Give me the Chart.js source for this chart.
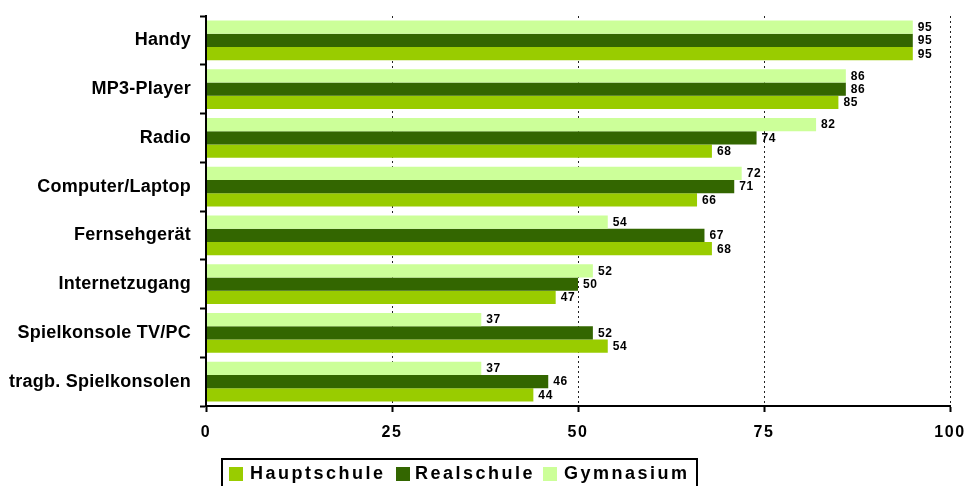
<!DOCTYPE html>
<html>
<head>
<meta charset="utf-8">
<script src="https://cdn.jsdelivr.net/npm/chart.js@4/dist/chart.umd.min.js"></script>
<style>
  html, body { margin: 0; padding: 0; background: #fff; }
  canvas { display: block; }
</style>
</head>
<body>
<canvas id="c" width="972" height="486"></canvas>
<script>
const categories = ["Handy", "MP3-Player", "Radio", "Computer/Laptop", "Fernsehgerät", "Internetzugang", "Spielkonsole TV/PC", "tragb. Spielkonsolen"];
const gymnasium   = [95, 86, 82, 72, 54, 52, 37, 37];
const realschule  = [95, 86, 74, 71, 67, 50, 52, 46];
const hauptschule = [95, 85, 68, 66, 68, 47, 54, 44];
const xTicks = [0, 25, 50, 75, 100];
const legendOrder = ["Hauptschule", "Realschule", "Gymnasium"];

const FONT = '"Liberation Sans", Arial, sans-serif';
const COLORS = { Hauptschule: '#99CC00', Realschule: '#336600', Gymnasium: '#CCFF99' };

const spacingPlugin = {
  id: 'spacing',
  beforeDraw(chart) {
    const sp = { x: '1.6px', y: '0.25px' };
    for (const id of ['x', 'y']) {
      const s = chart.scales[id];
      if (s && !s._spPatched) {
        const orig = s.drawLabels;
        s.drawLabels = function (a) {
          const c = this.ctx;
          c.save();
          c.letterSpacing = sp[id];
          orig.call(this, a);
          c.restore();
        };
        s._spPatched = true;
      }
    }
  }
};

const valueLabels = {
  id: 'valueLabels',
  afterDatasetsDraw(chart) {
    const ctx = chart.ctx;
    ctx.save();
    ctx.font = 'bold 12px ' + FONT;
    ctx.letterSpacing = '0.6px';
    ctx.fillStyle = '#000';
    ctx.textAlign = 'left';
    ctx.textBaseline = 'middle';
    chart.data.datasets.forEach((ds, di) => {
      const meta = chart.getDatasetMeta(di);
      meta.data.forEach((bar, i) => {
        ctx.fillText(String(ds.data[i]), bar.x + 5, bar.y + 0.5);
      });
    });
    ctx.restore();
  }
};

const boxLegend = {
  id: 'boxLegend',
  afterDraw(chart) {
    const ctx = chart.ctx;
    ctx.save();
    ctx.strokeStyle = '#000';
    ctx.lineWidth = 2;
    ctx.strokeRect(222, 459, 475, 40);
    const sq = [229, 396, 543];
    const tx = [250, 415, 564];
    ctx.font = 'bold 18px ' + FONT;
    ctx.letterSpacing = '2.5px';
    ctx.textBaseline = 'middle';
    ctx.textAlign = 'left';
    legendOrder.forEach((name, k) => {
      const ds = chart.data.datasets.find(d => d.label === name);
      ctx.fillStyle = ds.backgroundColor;
      ctx.fillRect(sq[k], 467, 14, 14);
      ctx.fillStyle = '#000';
      ctx.fillText(name, tx[k], 474);
    });
    ctx.restore();
  }
};

new Chart(document.getElementById('c'), {
  type: 'bar',
  data: {
    labels: categories,
    datasets: [
      { label: 'Gymnasium', data: gymnasium, backgroundColor: COLORS.Gymnasium },
      { label: 'Realschule', data: realschule, backgroundColor: COLORS.Realschule },
      { label: 'Hauptschule', data: hauptschule, backgroundColor: COLORS.Hauptschule }
    ]
  },
  options: {
    indexAxis: 'y',
    responsive: false,
    animation: false,
    devicePixelRatio: 1,
    datasets: { bar: { categoryPercentage: 0.82, barPercentage: 1.0, borderWidth: 0 } },
    layout: { padding: { top: 16, right: 22, left: 0, bottom: 0 } },
    plugins: { legend: { display: false }, tooltip: { enabled: false } },
    scales: {
      x: {
        min: 0, max: 100,
        afterBuildTicks(scale) { scale.ticks = xTicks.map(v => ({ value: v })); },
        afterFit(scale) { scale.height = 80; scale.paddingLeft = 0; scale.paddingRight = 0; },
        grid: {
          color: '#222', lineWidth: 1,
          drawTicks: true, tickLength: 6, tickColor: '#000', tickWidth: 2, tickBorderDash: [],
          z: -1
        },
        border: { display: true, color: '#000', width: 2, z: 1, dash: [2, 3] },
        ticks: { color: '#000', font: { family: FONT, size: 16, weight: 'bold' }, padding: 11, maxRotation: 0 }
      },
      y: {
        afterFit(scale) { scale.width = 206; scale.paddingTop = 0; scale.paddingBottom = 0; },
        grid: {
          offset: true, drawOnChartArea: false, drawTicks: true, tickLength: 6,
          tickColor: '#000', tickWidth: 2
        },
        border: { display: true, color: '#000', width: 2, z: 1 },
        ticks: { color: '#000', font: { family: FONT, size: 18, weight: 'bold' }, padding: 9 }
      }
    }
  },
  plugins: [spacingPlugin, valueLabels, boxLegend]
});
</script>
</body>
</html>
